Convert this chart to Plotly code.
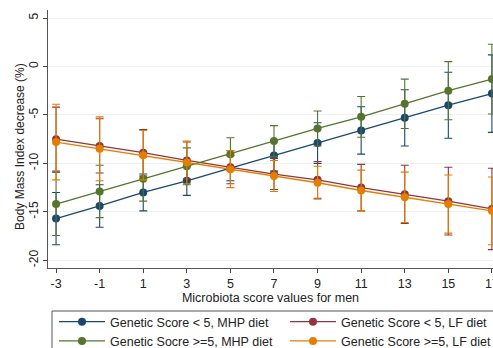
import plotly.graph_objects as go

x_vals = [-3, -1, 1, 3, 5, 7, 9, 11, 13, 15, 17]
x_tick_text = ["-3", "-1", "1", "3", "5", "7", "9", "11", "13", "15", "17"]
y_tick_vals = [5, 0, -5, -10, -15, -20]
y_tick_text = ["5", "0", "-5", "-10", "-15", "-20"]

mhp_low = [-15.7, -14.4, -13.0, -11.8, -10.5, -9.2, -7.9, -6.6, -5.3, -4.0, -2.8]
mhp_low_err = [2.7, 2.2, 1.9, 1.5, 1.3, 1.6, 2.1, 2.45, 2.9, 3.4, 4.0]

lf_low = [-7.5, -8.2, -8.9, -9.7, -10.4, -11.1, -11.7, -12.5, -13.2, -13.9, -14.7]
lf_low_err = [3.3, 2.8, 2.4, 1.9, 1.7, 1.6, 1.9, 2.4, 3.0, 3.5, 4.2]

mhp_high = [-14.2, -12.9, -11.6, -10.3, -9.05, -7.7, -6.4, -5.2, -3.85, -2.5, -1.3]
mhp_high_err = [3.25, 2.7, 2.3, 1.9, 1.7, 1.6, 1.8, 2.1, 2.55, 3.0, 3.6]

lf_high = [-7.8, -8.5, -9.15, -9.9, -10.6, -11.3, -12.0, -12.8, -13.5, -14.2, -14.9]
lf_high_err = [3.9, 3.3, 2.55, 2.2, 1.9, 1.6, 1.7, 2.1, 2.6, 3.0, 3.5]

series = [
    ("Genetic Score < 5, MHP diet", mhp_low, mhp_low_err, "#1a476f", "legend"),
    ("Genetic Score < 5, LF diet", lf_low, lf_low_err, "#90353b", "legend2"),
    ("Genetic Socre >=5, MHP diet", mhp_high, mhp_high_err, "#55752f", "legend"),
    ("Genetic Score >=5, LF diet", lf_high, lf_high_err, "#e37e00", "legend2"),
]

fig = go.Figure()
for name, y, err, col, leg in series:
    fig.add_trace(go.Scatter(
        x=x_vals, y=y, name=name, mode="lines+markers",
        line=dict(color=col, width=1.3),
        marker=dict(color=col, size=8),
        error_y=dict(type="data", array=err, visible=True, color=col,
                     thickness=1.1, width=4),
        cliponaxis=False, legend=leg,
    ))

W, H = 493, 348
# plot area in page pixels: x 48..493, y 10..268
PL, PR, PT, PB = 48, 493, 10, 268

def px_x(p):
    return (p - PL) / (PR - PL)

def px_y(p):
    return (PB - p) / (PB - PT)

font_family = "Liberation Sans, Arial, sans-serif"
leg_common = dict(
    orientation="v", xanchor="left", yanchor="top",
    borderwidth=0, bgcolor="rgba(0,0,0,0)",
    font=dict(size=12.5, color="#222", family=font_family),
    itemwidth=46, tracegroupgap=0,
)
fig.update_layout(
    width=W, height=H,
    margin=dict(l=PL, r=W - PR, t=PT, b=H - PB, autoexpand=False),
    paper_bgcolor="white", plot_bgcolor="white",
    font=dict(family=font_family, size=12, color="#222"),
    showlegend=True,
    legend=dict(x=px_x(54), y=px_y(307), **leg_common),
    legend2=dict(x=px_x(285), y=px_y(307), **leg_common),
    shapes=[dict(type="rect", xref="paper", yref="paper",
                 x0=px_x(52), x1=px_x(520), y0=px_y(311), y1=px_y(400),
                 line=dict(color="#555", width=1), fillcolor="rgba(0,0,0,0)",
                 layer="above")],
    annotations=[dict(text="Body Mass Index decrease (%)", textangle=-90,
                      xref="paper", yref="paper", x=px_x(20), y=px_y(147),
                      xanchor="center", yanchor="middle", showarrow=False,
                      font=dict(size=12, color="#222"))],
    xaxis=dict(
        range=[-3.37, 17.05], tickvals=x_vals, ticktext=x_tick_text,
        ticks="outside", ticklen=4, ticklabeloverflow="allow",
        tickcolor="#444", showline=True, linecolor="#555", linewidth=1,
        showgrid=False, zeroline=False,
        tickfont=dict(size=12.5),
        title=dict(text="Microbiota score values for men", font=dict(size=12.5), standoff=1),
    ),
    yaxis=dict(
        range=[-20.8, 5.83], tickvals=y_tick_vals, ticktext=y_tick_text,
        ticks="outside", ticklen=4,
        tickcolor="#444", showline=True, linecolor="#555", linewidth=1,
        showgrid=True, gridcolor="#eaf2f3", gridwidth=1, zeroline=False,
        tickangle=-90, tickfont=dict(size=12), ticklabelstandoff=0,
    ),
)

fig.write_html(
    "out.html",
    config={"displayModeBar": False},
    post_script="document.body.style.margin='0';document.body.style.overflow='hidden';",
)
